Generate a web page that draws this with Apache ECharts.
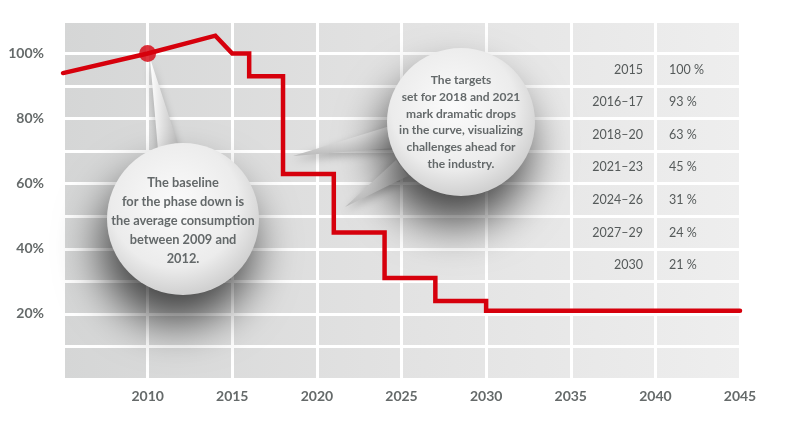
<!DOCTYPE html>
<html>
<head>
<meta charset="utf-8">
<script src="https://cdn.jsdelivr.net/npm/echarts@6/dist/echarts.min.js"></script>
<style>html,body{margin:0;padding:0;background:#fff}#main{width:787px;height:423px}</style>
</head>
<body>
<div id="main"></div>
<script>
// phase down curve (share of baseline)
var years  = [2005, 2010, 2014, 2015, 2016, 2016, 2018, 2018, 2021, 2021, 2024, 2024, 2027, 2027, 2030, 2030, 2045];
var levels = [94, 100, 105.5, 100, 100, 93, 93, 63, 63, 45, 45, 31, 31, 24, 24, 21, 21];
var baseline = [2010, 100];
var periods = ['2015', '2016–17', '2018–20', '2021–23', '2024–26', '2027–29', '2030'];
var targets = ['100 %', '93 %', '63 %', '45 %', '31 %', '24 %', '21 %'];
var xLabels = [2010, 2015, 2020, 2025, 2030, 2035, 2040, 2045];
var yLabels = [20, 40, 60, 80, 100];
var note1 = ['The baseline', 'for the phase down is', 'the average consumption', 'between 2009 and', '2012.'];
var note2 = ['The targets', 'set for 2018 and 2021', 'mark dramatic drops', 'in the curve, visualizing', 'challenges ahead for', 'the industry.'];

var RED = '#d6000c';
var chart = echarts.init(document.getElementById('main'), null, {renderer: 'canvas'});

var curve = years.map(function (y, i) { return [y, levels[i]]; });

var option = {
  backgroundColor: '#fff',
  animation: false,
  grid: {
    left: 63, right: 47, top: 21, bottom: 44,
    show: true, borderWidth: 0,
    backgroundColor: {
      type: 'linear', x: 0, y: 0, x2: 1, y2: 0,
      colorStops: [{offset: 0, color: '#d5d6d6'}, {offset: 0.45, color: '#e1e1e1'}, {offset: 1, color: '#eeeeee'}]
    }
  },
  xAxis: {
    type: 'value', min: 2005, max: 2045, interval: 5,
    axisLine: {show: false}, axisTick: {show: false},
    splitLine: {show: true, lineStyle: {color: '#ffffff', width: 3}},
    axisLabel: {
      margin: 10, color: '#656a6a', fontFamily: 'Lato', fontWeight: 'bold', fontSize: 14,
      formatter: function (v) { return xLabels.indexOf(v) >= 0 ? String(v) : ''; }
    }
  },
  yAxis: {
    type: 'value', min: 0, max: 110, interval: 10,
    axisLine: {show: false}, axisTick: {show: false},
    splitLine: {show: true, lineStyle: {color: '#ffffff', width: 3}},
    axisLabel: {
      margin: 19, color: '#656a6a', fontFamily: 'Lato', fontWeight: 'bold', fontSize: 14,
      formatter: function (v) { return yLabels.indexOf(v) >= 0 ? v + '%' : ''; }
    }
  },
  series: [
    {
      type: 'line', data: curve, showSymbol: false, z: 20,
      lineStyle: {color: RED, width: 4.5, cap: 'round', join: 'miter'}
    },
    {
      type: 'scatter', data: [baseline], symbolSize: 17, z: 21,
      itemStyle: {color: RED}
    }
  ]
};
chart.setOption(option);

function bubble(cx, cy, r) {
  return {
    type: 'circle', shape: {cx: cx, cy: cy, r: r}, z: 10,
    style: {
      fill: {
        type: 'radial', x: 0.45, y: 0.4, r: 0.6,
        colorStops: [{offset: 0, color: '#fbfbfb'}, {offset: 0.7, color: '#ececec'}, {offset: 1, color: '#d0d0d0'}]
      },
      shadowBlur: 45, shadowOffsetX: -6, shadowOffsetY: 28, shadowColor: 'rgba(0,0,0,0.7)'
    }
  };
}
function tail(pts, dir) {
  return {
    type: 'polygon', shape: {points: pts}, z: 9,
    style: {
      fill: {
        type: 'linear', x: 0, y: 0, x2: dir[0], y2: dir[1],
        colorStops: [{offset: 0, color: '#ffffff'}, {offset: 1, color: '#b9b9b9'}]
      },
      shadowBlur: 8, shadowOffsetY: 4, shadowColor: 'rgba(0,0,0,0.25)'
    }
  };
}
function noteText(lines, cx, cy, size, lh) {
  return {
    type: 'text', x: cx, y: cy, z: 12,
    style: {
      text: lines.join('\n'), align: 'center', verticalAlign: 'middle',
      fill: '#64696a', font: 'bold ' + size + 'px Lato', lineHeight: lh
    }
  };
}

var g = [];
g.push(tail([[150, 58], [158, 150], [180, 150]], [1, 0]));
g.push(tail([[293, 156], [390, 126], [394, 148]], [0, 1]));
g.push(tail([[345, 207], [396, 160], [408, 176]], [0, 1]));
g.push(bubble(183, 219, 76));
g.push(bubble(461, 122, 74));
g.push(noteText(note1, 183, 221, 12.8, 19));
g.push(noteText(note2, 461, 122, 12, 16.7));

periods.forEach(function (p, i) {
  var yPix = chart.convertToPixel({gridIndex: 0}, [2040, 95 - 10 * i])[1];
  g.push({type: 'text', x: 643, y: yPix, z: 12,
    style: {text: p, align: 'right', verticalAlign: 'middle', fill: '#555a5a', font: '12.5px Lato'}});
  g.push({type: 'text', x: 669, y: yPix, z: 12,
    style: {text: targets[i], align: 'left', verticalAlign: 'middle', fill: '#555a5a', font: '12.5px Lato'}});
});

chart.setOption({graphic: g});
</script>
</body>
</html>
